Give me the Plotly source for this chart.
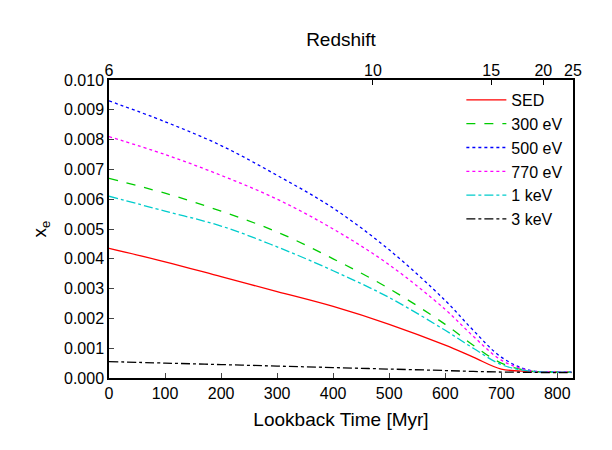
import plotly.graph_objects as go

t = [0, 100, 200, 300, 400, 500, 600, 650, 700, 750, 800, 825]
sed = [0.00435, 0.0039, 0.0034, 0.0029, 0.0024, 0.0018, 0.0011, 0.0007, 0.0003, 0.00022, 0.0002, 0.0002]
ev300 = [0.0067, 0.0062, 0.0056, 0.0049, 0.0040, 0.0030, 0.0018, 0.0011, 0.0005, 0.00024, 0.0002, 0.0002]
ev500 = [0.0093, 0.0086, 0.0078, 0.0068, 0.0057, 0.0043, 0.0026, 0.0016, 0.0007, 0.00026, 0.00021, 0.0002]
ev770 = [0.0081, 0.0075, 0.0068, 0.0060, 0.0050, 0.0038, 0.0023, 0.0014, 0.0006, 0.00025, 0.00021, 0.0002]
kev1 = [0.0061, 0.0056, 0.0051, 0.0044, 0.0036, 0.0027, 0.0016, 0.0010, 0.00045, 0.00023, 0.0002, 0.0002]
kev3 = [0.00055, 0.0005, 0.00045, 0.0004, 0.00035, 0.0003, 0.00025, 0.00022, 0.0002, 0.00019, 0.00018, 0.00018]
z_labels = ["6", "10", "15", "20", "25"]
z_pos = [0, 471, 682, 775, 828]

series = [("SED", sed, "#ff0000", "solid"), ("300 eV", ev300, "#00cc00", "dash"),
          ("500 eV", ev500, "#0000ff", "dot"), ("770 eV", ev770, "#ff00ff", "dot"),
          ("1 keV", kev1, "#00cccc", "dashdot"), ("3 keV", kev3, "#000000", "dashdot")]
fig = go.Figure()
for name, y, c, d in series:
    fig.add_trace(go.Scatter(x=t, y=y, name=name, mode="lines", line=dict(color=c, dash=d, width=1.3, shape="spline")))
fig.add_trace(go.Scatter(x=[0, 828], y=[None, None], xaxis="x2", showlegend=False, hoverinfo="skip"))

ax = dict(showline=True, linecolor="black", linewidth=1.5, mirror=True, ticks="inside",
          ticklen=5, showgrid=False, zeroline=False, tickfont=dict(size=16), automargin=False)
fig.update_layout(
    width=612, height=450, plot_bgcolor="white", paper_bgcolor="white",
    font=dict(family="Liberation Sans, Arial", size=16, color="black"),
    margin=dict(l=101, r=47, t=72, b=80),
    xaxis=dict(range=[0, 828], dtick=100, title=dict(text="Lookback Time [Myr]", standoff=12), **ax),
    xaxis2=dict(range=[0, 828], overlaying="x", side="top", tickvals=z_pos, ticktext=z_labels,
                title=dict(text="Redshift", standoff=10), ticks="inside", ticklen=5, showgrid=False,
                zeroline=False, tickfont=dict(size=16), automargin=False, tickcolor="black"),
    yaxis=dict(range=[0, 0.010], dtick=0.001, tickformat=".3f", title=dict(text="x<sub>e</sub>", standoff=12), **ax),
    legend=dict(x=0.99, y=0.99, xanchor="right", yanchor="top", bgcolor="rgba(0,0,0,0)",
                font=dict(size=16), tracegroupgap=0, itemwidth=40),
)
fig.write_html("out.html")
